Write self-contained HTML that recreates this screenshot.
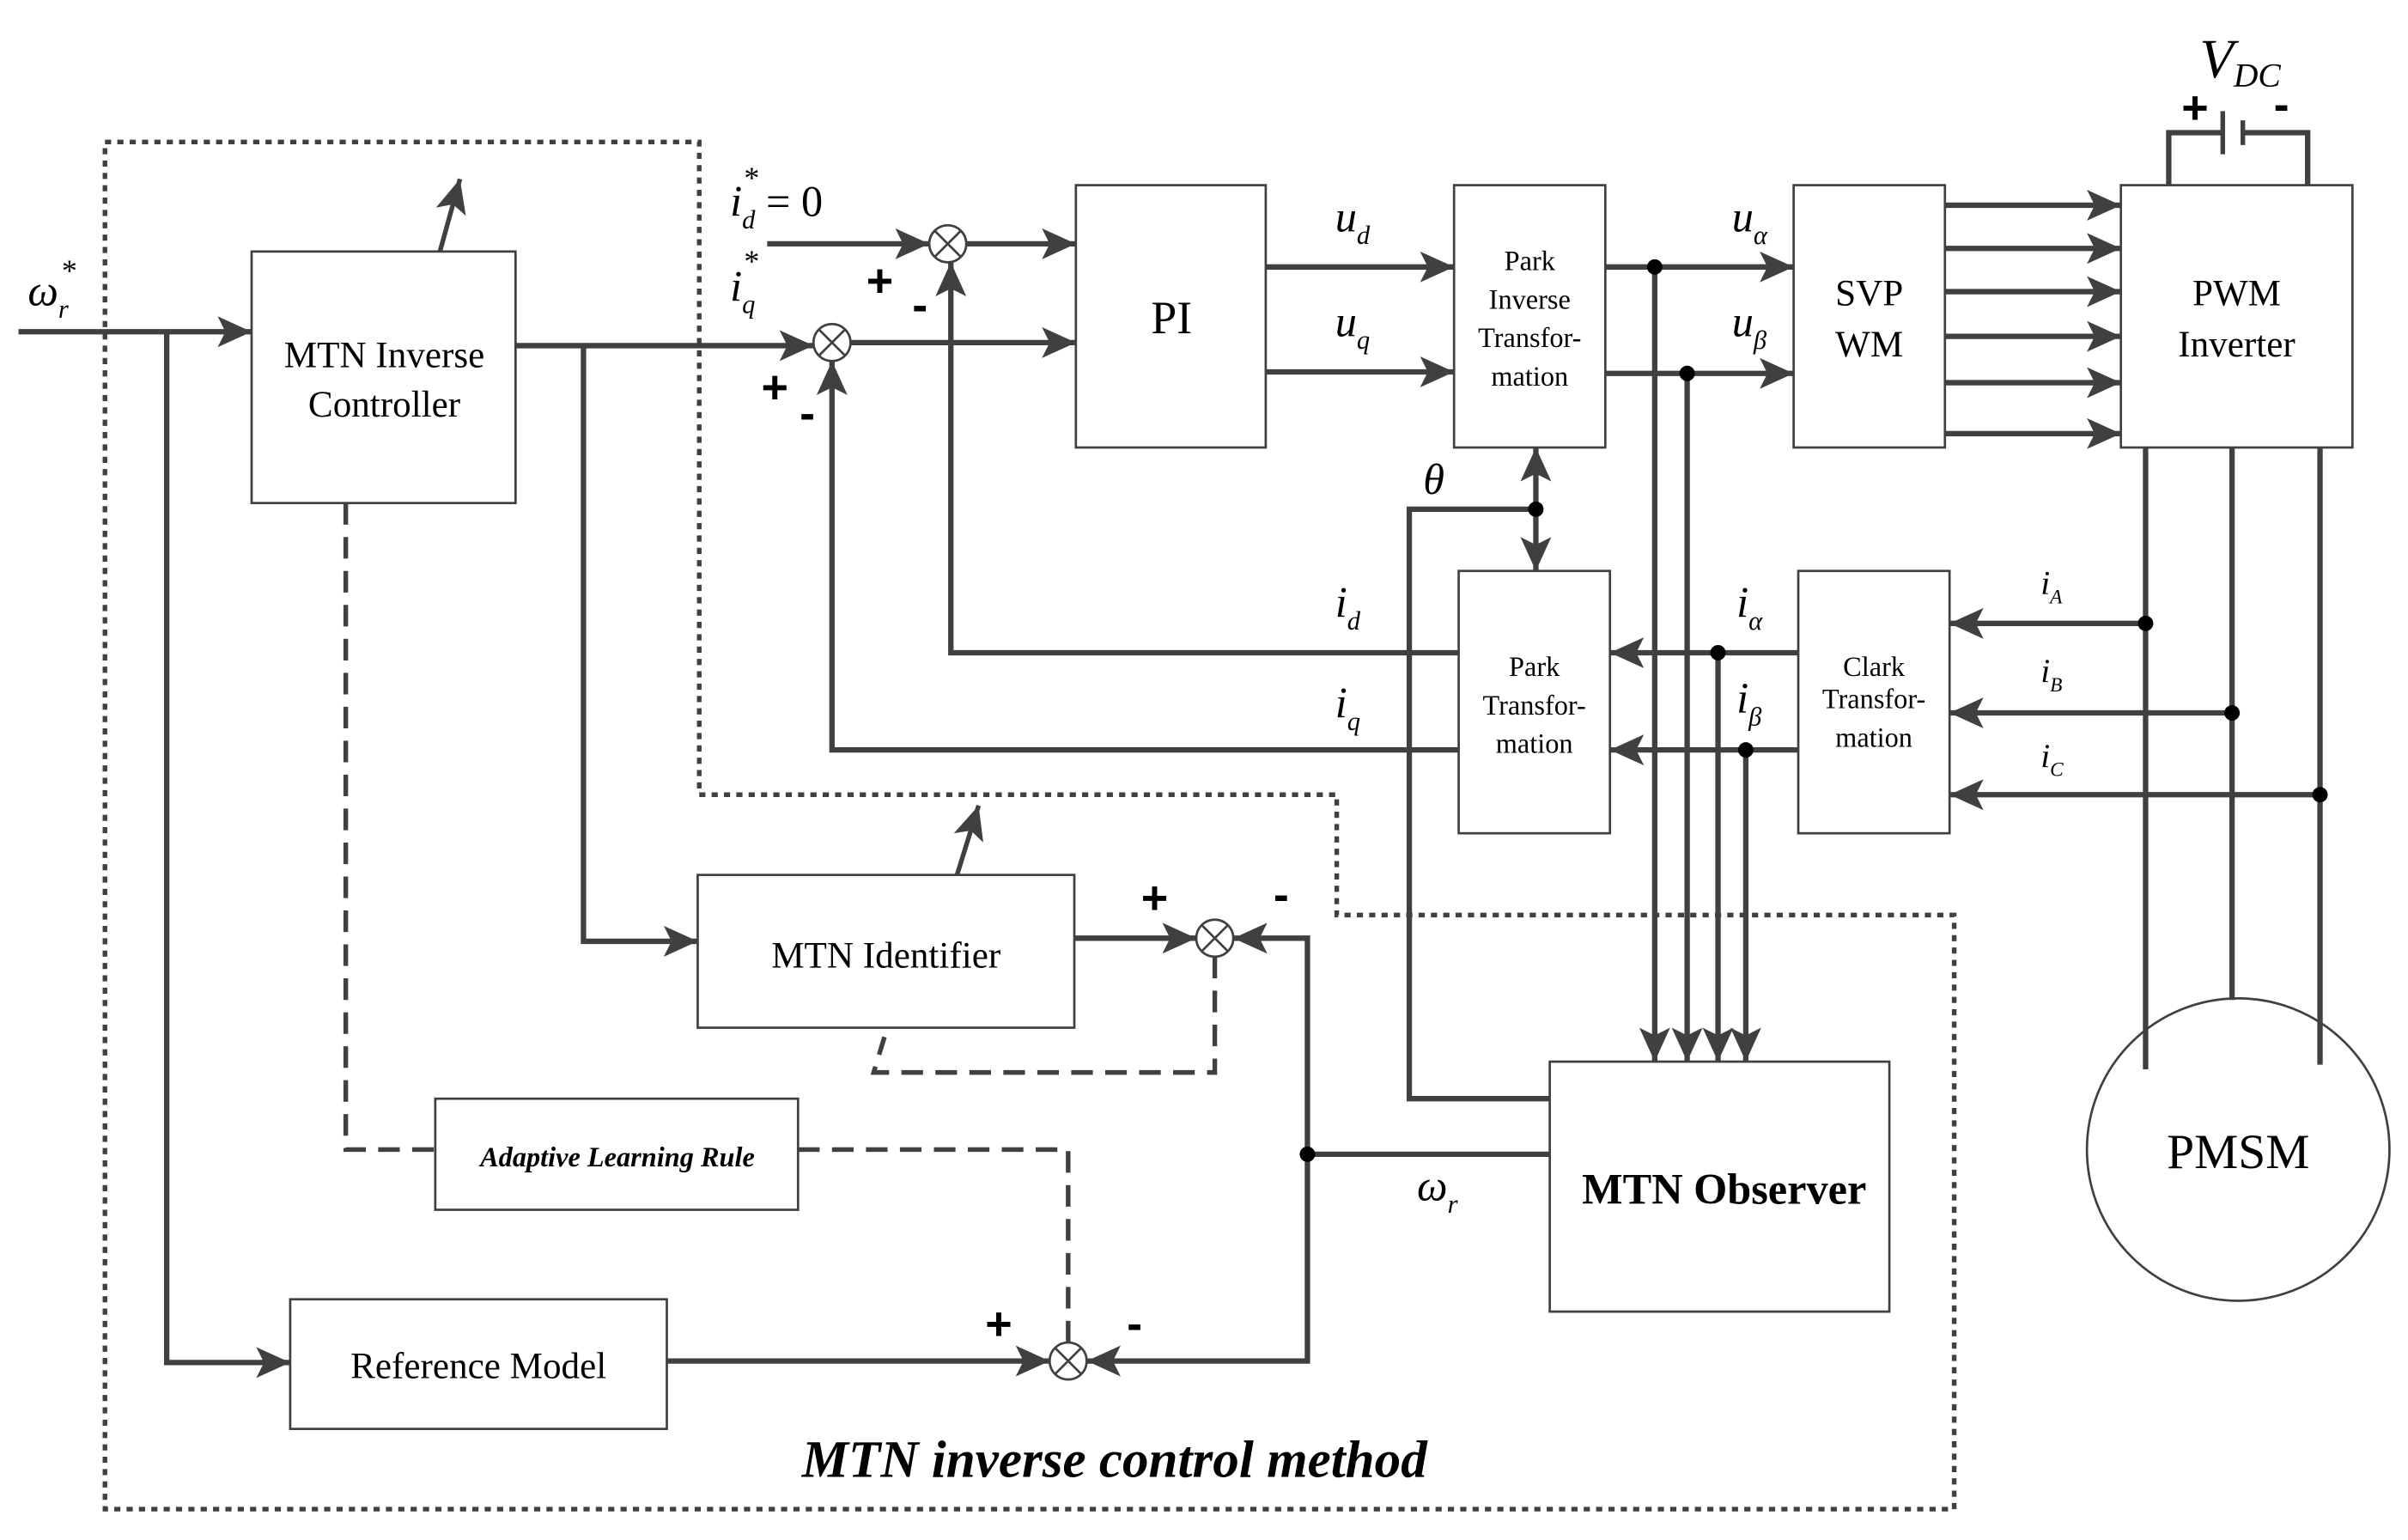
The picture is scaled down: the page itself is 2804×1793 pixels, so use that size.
<!DOCTYPE html>
<html><head><meta charset="utf-8"><style>html,body{margin:0;padding:0;background:#fff}svg{display:block}</style></head><body>
<svg width="2804" height="1793" viewBox="0 0 1560 998" preserveAspectRatio="none" xmlns="http://www.w3.org/2000/svg" font-family="Liberation Serif, serif">
<defs>
<marker id="a" markerUnits="userSpaceOnUse" markerWidth="24" markerHeight="20" refX="22" refY="10" orient="auto"><path d="M0,0 L22,10 L0,20 L5,10 Z" fill="#404040"/></marker>
</defs>
<rect width="1560" height="998" fill="#fff"/>
<g fill="none" stroke="#404040">
<path d="M68,92 H453 V515 H866 V593 H1266 V978 H68 Z" stroke-width="3" stroke-dasharray="4 4"/>
<!-- boxes -->
<g stroke-width="1.5">
<rect x="163" y="163" width="171" height="163"/>
<rect x="697" y="120" width="123" height="170"/>
<rect x="942" y="120" width="98" height="170"/>
<rect x="1162" y="120" width="98" height="170"/>
<rect x="1374" y="120" width="150" height="170"/>
<rect x="945" y="370" width="98" height="170"/>
<rect x="1165" y="370" width="98" height="170"/>
<rect x="1004" y="688" width="220" height="162"/>
<rect x="452" y="567" width="244" height="99"/>
<rect x="282" y="712" width="235" height="72"/>
<rect x="188" y="842" width="244" height="84"/>
<circle cx="1450" cy="745" r="98"/>
<circle cx="539" cy="222" r="12"/><path d="M531,214 L547,230 M547,214 L531,230"/>
<circle cx="614" cy="158" r="12"/><path d="M606,150 L622,166 M622,150 L606,166"/>
<circle cx="787" cy="608" r="12"/><path d="M779,600 L795,616 M795,600 L779,616"/>
<circle cx="692" cy="882" r="12"/><path d="M684,874 L700,890 M700,874 L684,890"/>
</g>
<g stroke-width="3.5">
<path d="M12,215 H163" marker-end="url(#a)"/>
<path d="M108,215 V883 H188" marker-end="url(#a)"/>
<path d="M334,224 H527" marker-end="url(#a)"/>
<path d="M378,224 V610 H452" marker-end="url(#a)"/>
<path d="M497,158 H602" marker-end="url(#a)"/>
<path d="M626,158 H697" marker-end="url(#a)"/>
<path d="M551,222 H697" marker-end="url(#a)"/>
<path d="M820,173 H942" marker-end="url(#a)"/>
<path d="M820,241 H942" marker-end="url(#a)"/>
<path d="M1040,173 H1162" marker-end="url(#a)"/>
<path d="M1040,242 H1162" marker-end="url(#a)"/>
<path d="M1072,173 V688" marker-end="url(#a)"/>
<path d="M1093,242 V688" marker-end="url(#a)"/>
<path d="M1113,423 V688" marker-end="url(#a)"/>
<path d="M1131,486 V688" marker-end="url(#a)"/>
<path d="M1260,133 H1374" marker-end="url(#a)"/>
<path d="M1260,161 H1374" marker-end="url(#a)"/>
<path d="M1260,189 H1374" marker-end="url(#a)"/>
<path d="M1260,218 H1374" marker-end="url(#a)"/>
<path d="M1260,248 H1374" marker-end="url(#a)"/>
<path d="M1260,281 H1374" marker-end="url(#a)"/>
<path d="M1405,120 V86 H1440 M1453,86 H1495 V120"/>
<path d="M1440,72 V100" stroke-width="3"/><path d="M1453,78 V94" stroke-width="3"/>
<path d="M1390,290 V693 M1446,290 V648 M1503,290 V690"/>
<path d="M1390,404 H1263" marker-end="url(#a)"/>
<path d="M1446,462 H1263" marker-end="url(#a)"/>
<path d="M1503,515 H1263" marker-end="url(#a)"/>
<path d="M1165,423 H1043" marker-end="url(#a)"/>
<path d="M1165,486 H1043" marker-end="url(#a)"/>
<path d="M945,423 H616 V170" marker-end="url(#a)"/>
<path d="M945,486 H539 V234" marker-end="url(#a)"/>
<path d="M1004,712 H913 V330 H995"/>
<path d="M995,330 V290" marker-end="url(#a)"/>
<path d="M995,330 V370" marker-end="url(#a)"/>
<path d="M1004,748 H847 V608 H799" marker-end="url(#a)"/>
<path d="M847,748 V882 H704" marker-end="url(#a)"/>
<path d="M696,608 H775" marker-end="url(#a)"/>
<path d="M432,882 H680" marker-end="url(#a)"/>
</g>
<g stroke-width="3" stroke-dasharray="14 8">
<path d="M787,620 V695 H566 L573,672"/>
<path d="M224,326 V745 H282"/>
<path d="M517,745 H692 V870"/>
</g>
<path d="M285,163 L298,116" stroke-width="3" marker-end="url(#a)"/>
<path d="M620,567 L634,522" stroke-width="3" marker-end="url(#a)"/>
</g>
<g fill="#000">
<circle cx="1072" cy="173" r="5"/><circle cx="1093" cy="242" r="5"/>
<circle cx="1113" cy="423" r="5"/><circle cx="1131" cy="486" r="5"/>
<circle cx="1390" cy="404" r="5"/><circle cx="1446" cy="462" r="5"/><circle cx="1503" cy="515" r="5"/>
<circle cx="995" cy="330" r="5"/><circle cx="847" cy="748" r="5"/>
</g>
<g fill="#000" text-anchor="middle" font-size="24">
<text x="249" y="238">MTN Inverse</text><text x="249" y="270">Controller</text>
<text x="759" y="216" font-size="30">PI</text>
<g font-size="18"><text x="991" y="175">Park</text><text x="991" y="200">Inverse</text><text x="991" y="225">Transfor-</text><text x="991" y="250">mation</text>
<text x="994" y="438">Park</text><text x="994" y="463">Transfor-</text><text x="994" y="488">mation</text>
<text x="1214" y="438">Clark</text><text x="1214" y="459">Transfor-</text><text x="1214" y="484">mation</text></g>
<text x="1211" y="198">SVP</text><text x="1211" y="231">WM</text>
<text x="1449" y="198">PWM</text><text x="1449" y="231">Inverter</text>
<text x="1450" y="757" font-size="32">PMSM</text>
<text x="1117" y="780" font-size="28" font-weight="bold">MTN Observer</text>
<text x="574" y="627">MTN Identifier</text>
<text x="310" y="893">Reference Model</text>
<text x="400" y="756" font-size="18" font-style="italic" font-weight="bold">Adaptive Learning Rule</text>
<text x="722" y="957" font-size="34" font-style="italic" font-weight="bold">MTN inverse control method</text>
</g>
<g fill="#000" font-style="italic" font-size="28">
<text x="18" y="198">ω<tspan font-size="17" dy="8">r</tspan></text><text x="40" y="182" font-size="20" font-style="normal">*</text>
<text x="473" y="140">i<tspan font-size="17" dy="8">d</tspan><tspan dy="-8" font-style="normal"> = 0</tspan></text><text x="482" y="122" font-size="20" font-style="normal">*</text>
<text x="473" y="195">i<tspan font-size="17" dy="8">q</tspan></text><text x="482" y="176" font-size="20" font-style="normal">*</text>
<text x="865" y="150">u<tspan font-size="17" dy="8">d</tspan></text>
<text x="865" y="218">u<tspan font-size="17" dy="8">q</tspan></text>
<text x="1122" y="150">u<tspan font-size="17" dy="8">α</tspan></text>
<text x="1122" y="218">u<tspan font-size="17" dy="8">β</tspan></text>
<text x="865" y="400">i<tspan font-size="17" dy="8">d</tspan></text>
<text x="865" y="465">i<tspan font-size="17" dy="8">q</tspan></text>
<text x="1125" y="400">i<tspan font-size="17" dy="8">α</tspan></text>
<text x="1125" y="462">i<tspan font-size="17" dy="8">β</tspan></text>
<text x="1322" y="385" font-size="22">i<tspan font-size="13" dy="6">A</tspan></text>
<text x="1322" y="442" font-size="22">i<tspan font-size="13" dy="6">B</tspan></text>
<text x="1322" y="497" font-size="22">i<tspan font-size="13" dy="6">C</tspan></text>
<text x="922" y="320">θ</text>
<text x="918" y="778">ω<tspan font-size="17" dy="8">r</tspan></text>
<text x="1425" y="50" font-size="36">V<tspan font-size="22" dy="6">DC</tspan></text>
</g>
<g fill="#000" font-family="Liberation Sans, sans-serif" font-weight="bold" font-size="30" text-anchor="middle">
<text x="570" y="192">+</text><text x="596" y="208">-</text>
<text x="502" y="261">+</text><text x="523" y="278">-</text>
<text x="748" y="592">+</text><text x="830" y="590">-</text>
<text x="647" y="868">+</text><text x="735" y="868">-</text>
<text x="1422" y="80">+</text><text x="1478" y="78">-</text>
</g>
</svg>
</body></html>
